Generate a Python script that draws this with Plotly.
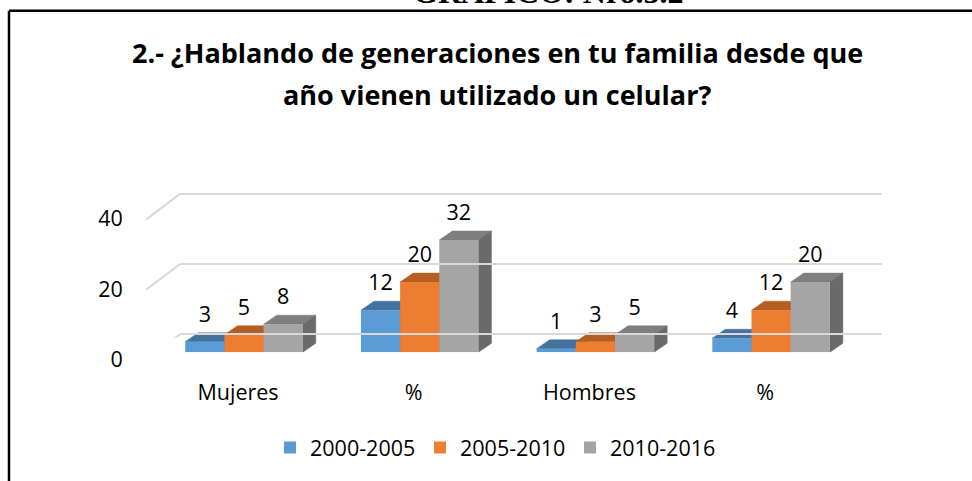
import plotly.graph_objects as go

# ---------------- data ----------------
categories = ["Mujeres", "%", "Hombres", "%"]
series_names = ["2000-2005", "2005-2010", "2010-2016"]
values_2000_2005 = [3, 12, 1, 4]
values_2005_2010 = [5, 20, 3, 12]
values_2010_2016 = [8, 32, 5, 20]
y_ticks = [0, 20, 40]

series_values = [values_2000_2005, values_2005_2010, values_2010_2016]

# ---------------- styling ----------------
front_colors = ["#5B9BD5", "#ED7D31", "#A5A5A5"]
top_colors = ["#44729F", "#B55E22", "#7F7F7F"]
side_colors = ["#3C6590", "#A0521D", "#6A6A6A"]
FONT = "Open Sans"
FS = 21.5

W, H = 972, 481
S = 3.51            # pixels per value unit
CAT_PX = 175.7      # pixels per category
X0_PX = 244.0       # pixel x of first category centre
BAR_ZERO_PX = 352.3
BACK_ZERO_PX = 334.3
FRONT_ZERO_PX = 360.0
BARGAP = 0.331
DX_PX, DY_PX = 13.0, 9.0
LABEL_PX = 25.5
YMAX = 50


def px(p):
    return p / W


def py(p):
    return (H - p) / H


def ydomain(zero_px, ymin, ymax):
    bottom = zero_px - ymin * S
    top = zero_px - ymax * S
    return [py(bottom), py(top)]


n_series = len(series_values)
bw = (1 - BARGAP) / n_series
dx = DX_PX / CAT_PX
dy = DY_PX / S

fig = go.Figure()

# 3D faces (top and side) in the base subplot, drawn under the bar fronts
for i, vals in enumerate(series_values):
    tx, ty, sx, sy = [], [], [], []
    for c, v in enumerate(vals):
        centre = c + (i - (n_series - 1) / 2) * bw
        L, R = centre - bw / 2, centre + bw / 2
        tx += [L, R, R + dx, L + dx, L, None]
        ty += [v, v, v + dy, v + dy, v, None]
        sx += [R, R, R + dx, R + dx, R, None]
        sy += [0, v, v + dy, dy, 0, None]
    fig.add_trace(go.Scatter(x=tx, y=ty, mode="lines", fill="toself",
                             fillcolor=top_colors[i],
                             line=dict(color=top_colors[i], width=0.5),
                             showlegend=False, hoverinfo="skip",
                             xaxis="x", yaxis="y"))
    fig.add_trace(go.Scatter(x=sx, y=sy, mode="lines", fill="toself",
                             fillcolor=side_colors[i],
                             line=dict(color=side_colors[i], width=0.5),
                             showlegend=False, hoverinfo="skip",
                             xaxis="x", yaxis="y"))

# bar fronts (overlay subplot -> drawn above the faces)
xs = list(range(len(categories)))
for i, vals in enumerate(series_values):
    fig.add_trace(go.Bar(x=xs, y=vals, name=series_names[i],
                         marker=dict(color=front_colors[i], line=dict(width=0)),
                         xaxis="x", yaxis="y4"))

# data labels
for i, vals in enumerate(series_values):
    lx = [c + (i - (n_series - 1) / 2) * bw for c in xs]
    ly = [v + LABEL_PX / S for v in vals]
    fig.add_trace(go.Scatter(x=lx, y=ly, mode="text", text=[str(v) for v in vals],
                             textposition="middle center",
                             textfont=dict(family=FONT, size=FS, color="#000000"),
                             showlegend=False, hoverinfo="skip",
                             xaxis="x", yaxis="y4"))

# floor diagonals of the back wall grid
shapes = []
for v in y_ticks:
    shapes.append(dict(type="line", xref="paper", yref="y2",
                       x0=px(146), x1=px(180),
                       y0=v - (FRONT_ZERO_PX - BACK_ZERO_PX) / S, y1=v,
                       line=dict(color="#D9D9D9", width=2), layer="below"))
# outer frame (left and top)
shapes.append(dict(type="line", xref="paper", yref="paper",
                   x0=px(9), x1=px(9), y0=py(10.7), y1=-0.02,
                   line=dict(color="#000000", width=2.5)))
shapes.append(dict(type="line", xref="paper", yref="paper",
                   x0=px(9), x1=1.02, y0=py(10.7), y1=py(10.7),
                   line=dict(color="#000000", width=2.5)))

annotations = [
    dict(text="GRÁFICO: Nro.3.2", x=px(548), y=py(12.5), xref="paper", yref="paper",
         xanchor="center", yanchor="bottom", showarrow=False,
         font=dict(family="Liberation Serif", size=32, color="#000000", weight="bold")),
    dict(text="2.- ¿Hablando de generaciones en tu familia desde que",
         x=px(497), y=py(52), xref="paper", yref="paper",
         xanchor="center", yanchor="middle", showarrow=False,
         font=dict(family=FONT, size=27, color="#000000", weight="bold")),
    dict(text="año vienen utilizado un celular?",
         x=px(497), y=py(94), xref="paper", yref="paper",
         xanchor="center", yanchor="middle", showarrow=False,
         font=dict(family=FONT, size=27, color="#000000", weight="bold")),
]

fig.update_layout(
    width=W, height=H,
    margin=dict(l=0, r=0, t=0, b=0, autoexpand=False),
    paper_bgcolor="white", plot_bgcolor="rgba(0,0,0,0)",
    barmode="group", bargap=BARGAP, bargroupgap=0,
    font=dict(family=FONT, size=FS, color="#000000"),
    shapes=shapes, annotations=annotations,
    showlegend=True,
    legend=dict(orientation="h", x=px(270), xanchor="left", y=py(447.5), yanchor="middle",
                font=dict(family=FONT, size=FS, color="#000000"),
                bgcolor="rgba(0,0,0,0)", itemwidth=30, traceorder="normal",
                entrywidth=105, entrywidthmode="pixels"),
    xaxis=dict(domain=[px(X0_PX - 0.5 * CAT_PX), px(X0_PX + 3.5 * CAT_PX)],
               range=[-0.5, len(categories) - 0.5], anchor="y",
               tickvals=xs, ticktext=categories,
               showgrid=False, zeroline=False, showline=False,
               ticks="outside", ticklen=21, tickcolor="rgba(0,0,0,0)",
               ticklabelshift=-6, tickfont=dict(size=FS)),
    yaxis=dict(domain=ydomain(BAR_ZERO_PX, 0, YMAX), range=[0, YMAX], anchor="x",
               tickvals=y_ticks, showgrid=False, zeroline=False, showline=False,
               ticks="outside", ticklen=28, tickcolor="rgba(0,0,0,0)",
               ticklabelshift=7, tickfont=dict(size=FS)),
    yaxis4=dict(overlaying="y", range=[0, YMAX], visible=False),
    xaxis2=dict(domain=[px(180), px(882)], range=[0, 1], anchor="y2", visible=False),
    yaxis2=dict(domain=ydomain(BACK_ZERO_PX, -1, YMAX), range=[-1, YMAX], anchor="x2",
                tickvals=y_ticks, showticklabels=False, showgrid=True,
                gridcolor="#D9D9D9", gridwidth=2, zeroline=False, showline=False),
)

fig.write_html("out.html",
               config={"displayModeBar": False},
               post_script="document.body.style.margin='0px';"
                           "document.body.style.overflow='hidden';")
